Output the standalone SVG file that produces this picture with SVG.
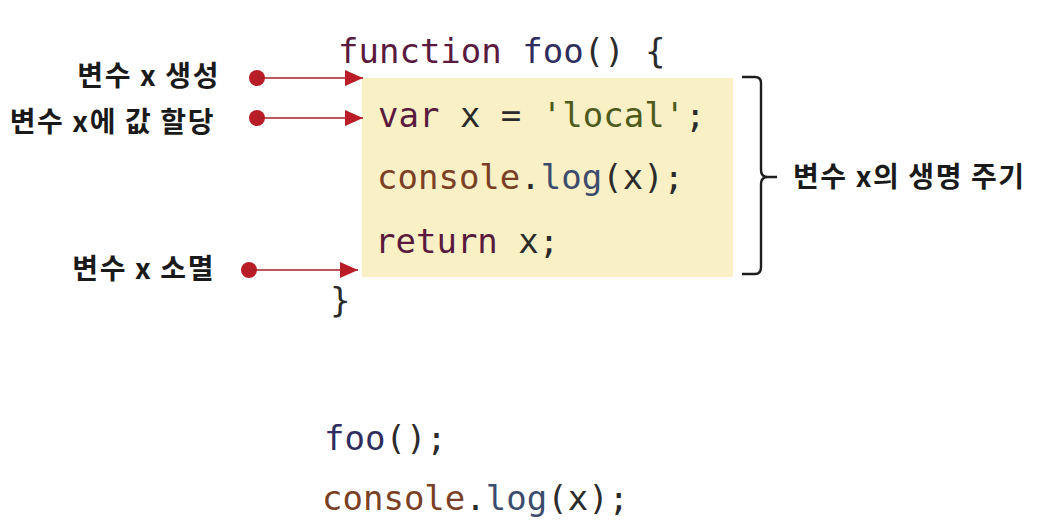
<svg xmlns="http://www.w3.org/2000/svg" width="1056" height="531" viewBox="0 0 1056 531">
<style>
.code{font-family:"DejaVu Sans Mono","Liberation Mono",monospace;font-size:34px;fill:#2b2b2b;stroke:currentColor;stroke-width:0}
.kw{fill:#5a1a3e}
.fn{fill:#2f2c5e}
.str{fill:#4d5a1c}
.obj{fill:#7a3f24}
.mth{fill:#3c4c6c}
.lbl{font-family:"Noto Sans CJK KR","Noto Sans",sans-serif;font-size:28px;font-weight:bold;fill:#1a1a1a;letter-spacing:1.6px}
.conn{stroke:#a81c26;stroke-width:1.6;fill:none}
.dot{fill:#b81d28}
</style>
<defs>
<marker id="ah" viewBox="0 0 18 16" refX="18" refY="8" markerWidth="18" markerHeight="16" markerUnits="userSpaceOnUse" orient="auto">
<path d="M0,0 L18,8 L0,16 Z" fill="#b81d28"/>
</marker>
</defs>
<rect width="1056" height="531" fill="#ffffff"/>
<g id="body-box">
<rect x="362" y="78" width="371" height="199" fill="#f9f0c6"/>
</g>
<g id="code">
<text class="code" x="338" y="63"><tspan class="kw">function</tspan> <tspan class="fn">foo</tspan>() {</text>
<text class="code" x="378" y="127"><tspan class="kw">var</tspan> x = <tspan class="str">'local'</tspan>;</text>
<text class="code" x="377" y="189"><tspan class="obj">console</tspan>.<tspan class="mth">log</tspan>(x);</text>
<text class="code" x="375" y="253"><tspan class="kw">return</tspan> x;</text>
<text class="code" x="330" y="312">}</text>
<text class="code" x="324" y="450"><tspan class="fn">foo</tspan>();</text>
<text class="code" x="322" y="510"><tspan class="obj">console</tspan>.<tspan class="mth">log</tspan>(x);</text>
</g>
<g id="label-create">
<text class="lbl" x="220" y="86" text-anchor="end">변수 x 생성</text>
</g>
<g id="label-assign">
<text class="lbl" x="215" y="132" text-anchor="end">변수 x에 값 할당</text>
</g>
<g id="label-destroy">
<text class="lbl" x="215" y="279" text-anchor="end">변수 x 소멸</text>
</g>
<g id="label-lifetime">
<text class="lbl" x="793" y="187">변수 x의 생명 주기</text>
</g>
<g id="connectors">
<circle class="dot" cx="257" cy="78" r="8"/>
<line class="conn" x1="257" y1="78" x2="363" y2="78" marker-end="url(#ah)"/>
<circle class="dot" cx="257" cy="118" r="8"/>
<line class="conn" x1="257" y1="118" x2="363" y2="118" marker-end="url(#ah)"/>
<circle class="dot" cx="249" cy="270" r="8"/>
<line class="conn" x1="249" y1="270" x2="358" y2="270" marker-end="url(#ah)"/>
<path d="M742,77 H755 Q761,77 761,83 V170 Q761,177 768,177 H777 M768,177 Q761,177 761,184 V267 Q761,274 755,274 H742" fill="none" stroke="#1e1e1e" stroke-width="2.4"/>
</g>
</svg>
